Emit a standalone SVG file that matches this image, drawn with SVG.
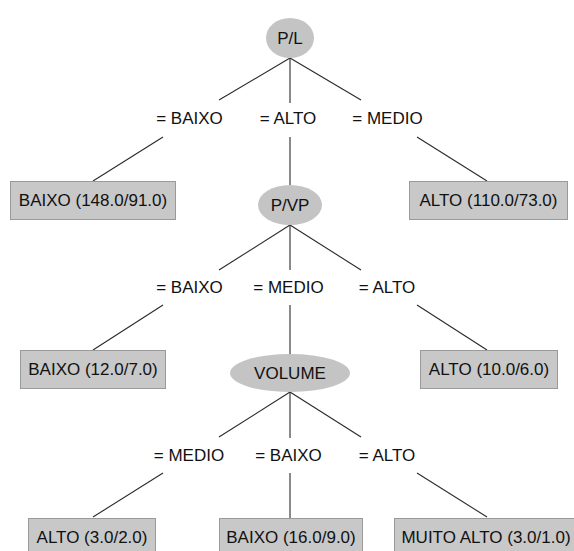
<svg xmlns="http://www.w3.org/2000/svg" width="574" height="551" viewBox="0 0 574 551">
<style>
text{font-family:"Liberation Sans",Arial,sans-serif;font-size:17px;fill:#111;text-anchor:middle}
.n{fill:#c4c4c4;stroke:none}
.leaf{fill:#c8c8c8;stroke:#9a9a9a;stroke-width:1}
.e line{stroke:#2a2a2a;stroke-width:1.1}
</style>
<rect width="574" height="551" fill="#fff"/>
<g class="e" id="connectors">
<line x1="290" y1="58" x2="219" y2="100"/>
<line x1="290" y1="58" x2="290" y2="103"/>
<line x1="290" y1="58" x2="361" y2="100"/>
<line x1="163" y1="137" x2="93" y2="181"/>
<line x1="290" y1="137" x2="290" y2="185"/>
<line x1="417" y1="137" x2="487" y2="181"/>
<line x1="290" y1="225" x2="219" y2="270"/>
<line x1="290" y1="225" x2="290" y2="270"/>
<line x1="290" y1="225" x2="361" y2="270"/>
<line x1="163" y1="305" x2="93" y2="350"/>
<line x1="290" y1="305" x2="290" y2="354"/>
<line x1="417" y1="305" x2="487" y2="350"/>
<line x1="290" y1="392" x2="219" y2="437"/>
<line x1="290" y1="392" x2="290" y2="438"/>
<line x1="290" y1="392" x2="361" y2="437"/>
<line x1="163" y1="473" x2="93" y2="517"/>
<line x1="290" y1="473" x2="290" y2="518"/>
<line x1="417" y1="473" x2="487" y2="517"/>
</g>
<g id="edge-labels">
<text x="189.5" y="124">= BAIXO</text>
<text x="288" y="124">= ALTO</text>
<text x="387.5" y="124">= MEDIO</text>
<text x="189.5" y="293">= BAIXO</text>
<text x="288.5" y="293">= MEDIO</text>
<text x="387" y="293">= ALTO</text>
<text x="189" y="461">= MEDIO</text>
<text x="288.5" y="461">= BAIXO</text>
<text x="387" y="461">= ALTO</text>
</g>
<g id="node-pl"><ellipse class="n" cx="290" cy="38" rx="24" ry="20"/><text x="290" y="44">P/L</text></g>
<g id="leaf-baixo-148"><rect class="leaf" x="10.5" y="181.5" width="165" height="38"/><text x="93" y="206">BAIXO (148.0/91.0)</text></g>
<g id="leaf-alto-110"><rect class="leaf" x="409.5" y="181.5" width="158" height="38"/><text x="488.5" y="206">ALTO (110.0/73.0)</text></g>
<g id="node-pvp"><ellipse class="n" cx="290" cy="205" rx="32" ry="20"/><text x="290" y="211">P/VP</text></g>
<g id="leaf-baixo-12"><rect class="leaf" x="20.5" y="350.5" width="145" height="38"/><text x="93" y="375">BAIXO (12.0/7.0)</text></g>
<g id="leaf-alto-10"><rect class="leaf" x="420.5" y="350.5" width="137" height="38"/><text x="489" y="375">ALTO (10.0/6.0)</text></g>
<g id="node-volume"><ellipse class="n" cx="290" cy="373" rx="60" ry="19"/><text x="290" y="379">VOLUME</text></g>
<g id="leaf-alto-3"><rect class="leaf" x="28.5" y="518.5" width="127" height="38"/><text x="92" y="543">ALTO (3.0/2.0)</text></g>
<g id="leaf-baixo-16"><rect class="leaf" x="219.5" y="518.5" width="143" height="38"/><text x="291" y="543">BAIXO (16.0/9.0)</text></g>
<g id="leaf-muito-alto"><rect class="leaf" x="394.5" y="518.5" width="190" height="38"/><text x="486" y="543">MUITO ALTO (3.0/1.0)</text></g>
</svg>
